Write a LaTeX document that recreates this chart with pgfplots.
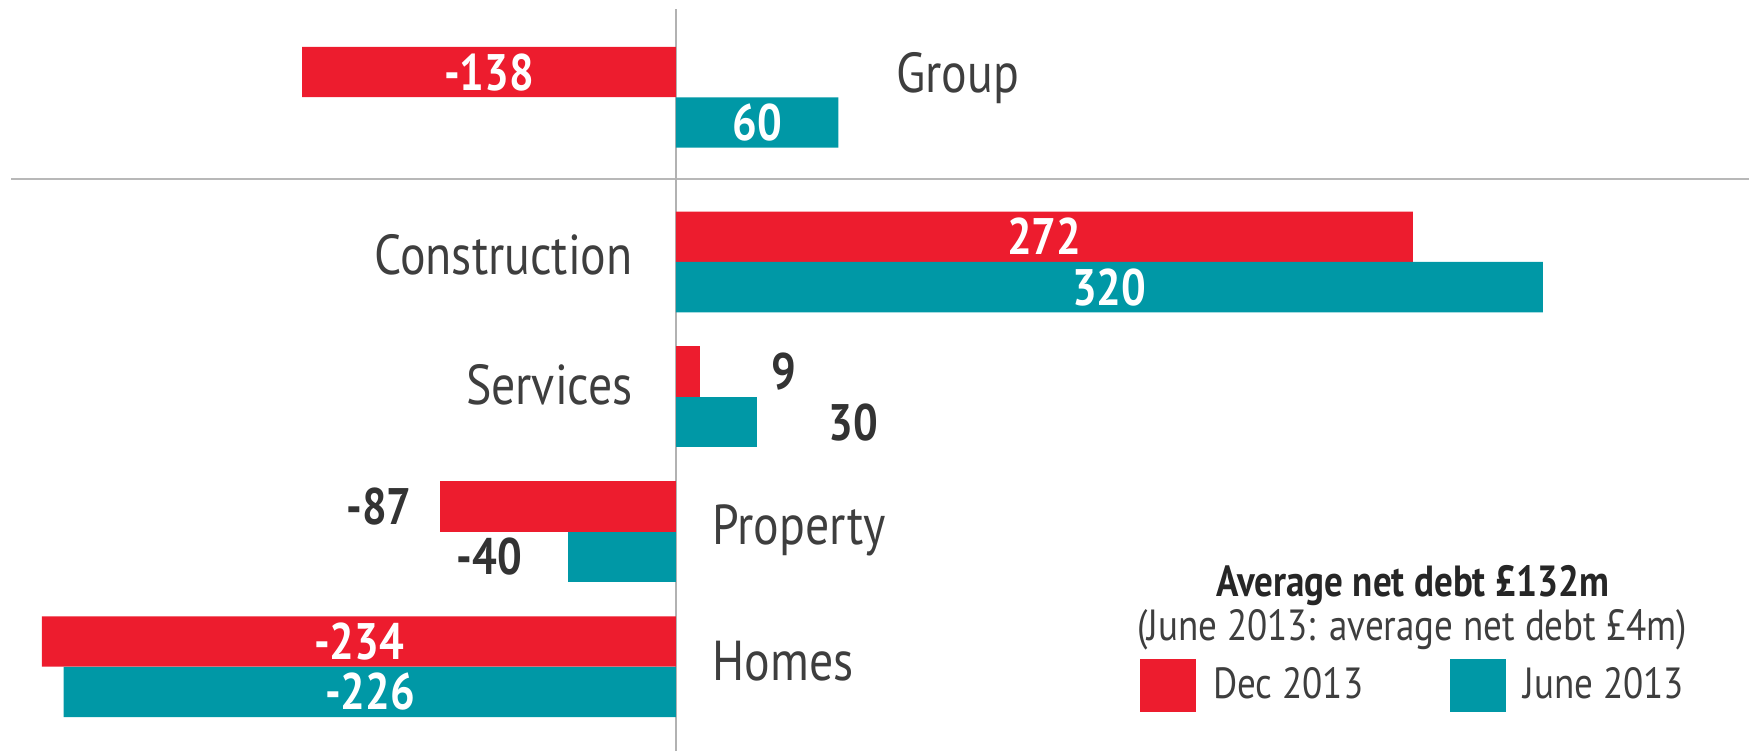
\documentclass[border=0pt]{standalone}
\usepackage{pgfplots}
\pgfplotsset{compat=1.18}
\usepackage{fontspec}
\setmainfont{PT Sans}[FakeStretch=0.85]
\definecolor{cred}{RGB}{237,28,46}
\definecolor{cteal}{RGB}{0,152,166}
\definecolor{ctext}{RGB}{62,62,62}
\definecolor{cnum}{RGB}{51,51,51}
\newcommand\numfont{\bfseries\fontsize{14.6}{17}\selectfont}
\newcommand\catfont{\fontsize{16}{19}\selectfont}
\newcommand\legfont{\fontsize{12.4}{14}\selectfont}
\begin{document}
\begin{tikzpicture}
\begin{axis}[
  scale only axis, x=0.02709cm, y=1.349cm,
  xmin=-249.5, xmax=398.3, ymin=-0.626, ymax=4.941,
  hide axis, clip=false,
  xbar, bar width=0.373,
  legend columns=2,
  legend cell align=left,
  legend style={at={(rel axis cs:0.6493,0.1238)}, anchor=north west,
    draw=none, fill=none, inner sep=0pt, font=\legfont, text=ctext,
    column sep=0.1cm,
    /tikz/every even column/.append style={column sep=0.8cm}},
]
\path (rel axis cs:0,0) rectangle (rel axis cs:1,1);
\draw[color=black!28, line width=0.6pt] (rel axis cs:0.0063,0.7617) -- (rel axis cs:0.9966,0.7617);
\draw[color=black!30, line width=0.4pt] (axis cs:0,-0.626) -- (axis cs:0,4.876);

% Dec 2013, labels inside bars
\addplot[fill=cred, draw=none, bar shift=0.187,
  legend image code/.code={\fill[cred] (0cm,-0.265cm) rectangle (0.56cm,0.265cm);},
  visualization depends on={value \thisrow{x} \as \rx},
  point meta=\thisrow{x},
  nodes near coords={\pgfmathprintnumber[assume math mode=true]{\pgfplotspointmeta}},
  every node near coord/.append style={anchor=center, text=white, font=\numfont, xshift={-0.013545cm*(\rx)}}
] table {
x y
-138 4.22
272 3
-234 0
};
% June 2013, labels inside bars
\addplot[fill=cteal, draw=none, bar shift=-0.187,
  legend image code/.code={\fill[cteal] (0cm,-0.265cm) rectangle (0.56cm,0.265cm);},
  visualization depends on={value \thisrow{x} \as \rx},
  point meta=\thisrow{x},
  nodes near coords={\pgfmathprintnumber[assume math mode=true]{\pgfplotspointmeta}},
  every node near coord/.append style={anchor=center, text=white, font=\numfont, xshift={-0.013545cm*(\rx)}}
] table {
x y
60 4.22
320 3
-226 0
};
% Dec 2013 Services (label outside, right)
\addplot[forget plot, fill=cred, draw=none, bar shift=0.187,
  point meta=\thisrow{x},
  nodes near coords={\pgfmathprintnumber[assume math mode=true]{\pgfplotspointmeta}},
  every node near coord/.append style={anchor=west, inner sep=0pt, text=cnum, font=\numfont, xshift=0.70cm}
] table {
x y
9 2
};
% June 2013 Services (label outside, right)
\addplot[forget plot, fill=cteal, draw=none, bar shift=-0.187,
  point meta=\thisrow{x},
  nodes near coords={\pgfmathprintnumber[assume math mode=true]{\pgfplotspointmeta}},
  every node near coord/.append style={anchor=west, inner sep=0pt, text=cnum, font=\numfont, xshift=0.71cm}
] table {
x y
30 2
};
% Dec 2013 Property (label outside, left)
\addplot[forget plot, fill=cred, draw=none, bar shift=0.187,
  point meta=\thisrow{x},
  nodes near coords={\pgfmathprintnumber[assume math mode=true]{\pgfplotspointmeta}},
  every node near coord/.append style={anchor=east, inner sep=0pt, text=cnum, font=\numfont, xshift=-0.28cm}
] table {
x y
-87 1
};
% June 2013 Property (label outside, left)
\addplot[forget plot, fill=cteal, draw=none, bar shift=-0.187,
  point meta=\thisrow{x},
  nodes near coords={\pgfmathprintnumber[assume math mode=true]{\pgfplotspointmeta}},
  every node near coord/.append style={anchor=east, inner sep=0pt, text=cnum, font=\numfont, xshift=-0.45cm}
] table {
x y
-40 1
};
\legend{Dec 2013, June 2013}

% category labels
\node[anchor=base west, inner sep=0pt, text=ctext, font=\catfont] at (axis cs:81.0,4.252) {Group};
\node[anchor=base east, inner sep=0pt, text=ctext, font=\catfont] at (axis cs:-15.7,2.908) {Construction};
\node[anchor=base east, inner sep=0pt, text=ctext, font=\catfont] at (axis cs:-15.7,1.945) {Services};
\node[anchor=base west, inner sep=0pt, text=ctext, font=\catfont] at (axis cs:13.25,0.908) {Property};
\node[anchor=base west, inner sep=0pt, text=ctext, font=\catfont] at (axis cs:13.25,-0.104) {Homes};

% legend heading
\node[anchor=base, inner sep=0pt, text=black!85, font=\bfseries\fontsize{12.4}{14}\selectfont] at (rel axis cs:0.8051,0.2056) {Average net debt £132m};
\node[anchor=base, inner sep=0pt, text=ctext, font=\legfont] at (rel axis cs:0.8046,0.1478) {(June 2013: average net debt £4m)};
\end{axis}
\end{tikzpicture}
\end{document}
